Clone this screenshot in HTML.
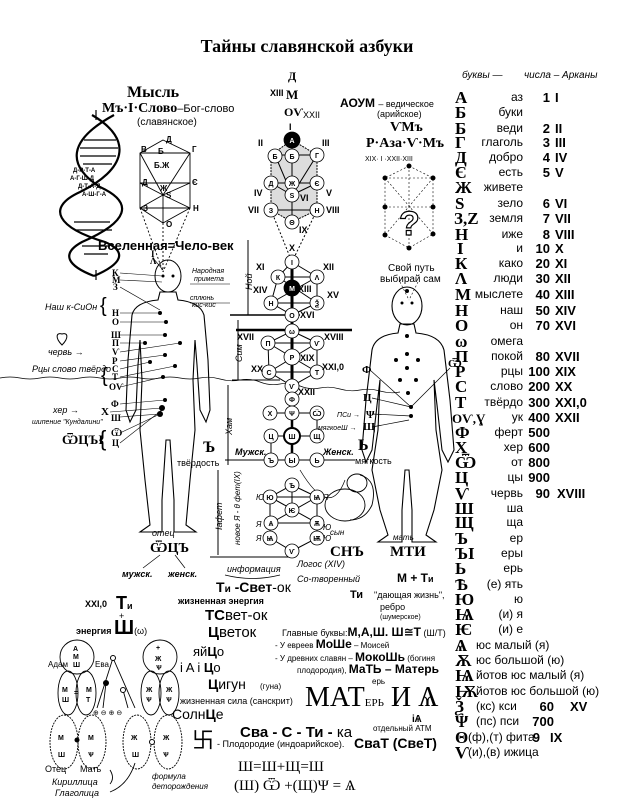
<!DOCTYPE html>
<html><head><meta charset="utf-8"><style>
html,body{margin:0;padding:0;background:#fff;}
svg{display:block;font-family:"Liberation Sans","DejaVu Sans",sans-serif;}
.s{font-family:"Liberation Serif","DejaVu Serif",serif;}
.i{font-style:italic;}
.b{font-weight:bold;}
</style></head><body>
<svg width="631" height="800" viewBox="0 0 631 800" xmlns="http://www.w3.org/2000/svg">
<rect width="631" height="800" fill="#fff"/>
<text x="307" y="52" text-anchor="middle" class="s b" font-size="18">Тайны славянской азбуки</text>

<!-- Right table -->
<g font-size="12">
<text x="462" y="78" class="i" font-size="10">буквы —</text>
<text x="524" y="78" class="i" font-size="10">числа – Арканы</text>
</g>
<g class="s b" font-size="17" fill="#000">
<text x="455" y="103">А</text><text x="455" y="118">Б</text><text x="455" y="134">Б</text><text x="455" y="148">Г</text><text x="455" y="163">Д</text><text x="455" y="178">Є</text><text x="455" y="193">Ж</text><text x="455" y="209">S</text><text x="454" y="224">З,Z</text><text x="455" y="240">Н</text><text x="457" y="254">І</text><text x="455" y="269">К</text><text x="455" y="284">Λ</text><text x="455" y="300">М</text><text x="455" y="316">Н</text><text x="455" y="331">О</text><text x="455" y="347">ω</text><text x="455" y="362">П</text><text x="455" y="377">Р</text><text x="455" y="392">С</text><text x="455" y="408">Т</text><text x="452" y="423" font-size="13">ОѴ,Ɣ</text><text x="455" y="438">Ф</text><text x="455" y="453">Х</text><text x="455" y="468">Ѿ</text><text x="455" y="483">Ц</text><text x="455" y="499">Ѵ</text><text x="455" y="514">Ш</text><text x="455" y="528">Щ</text><text x="455" y="544">Ъ</text><text x="455" y="559">ЪІ</text><text x="455" y="574">Ь</text><text x="455" y="590">Ѣ</text><text x="455" y="605">Ю</text><text x="455" y="620">Ѩ</text><text x="455" y="635">Ѥ</text><text x="455" y="651">Ѧ</text><text x="455" y="666">Ѫ</text><text x="455" y="681">Ѩ</text><text x="455" y="697">Ѭ</text><text x="455" y="712">Ѯ</text><text x="455" y="727">Ψ</text><text x="455" y="743">Θ</text><text x="455" y="758">Ѵ</text>
</g>
<g font-size="12" text-anchor="end">
<text x="523" y="101">аз</text><text x="523" y="116">буки</text><text x="523" y="132">веди</text><text x="523" y="146">глаголь</text><text x="523" y="161">добро</text><text x="523" y="176">есть</text><text x="523" y="191">живете</text><text x="523" y="207">зело</text><text x="523" y="222">земля</text><text x="523" y="238">иже</text><text x="523" y="252">и</text><text x="523" y="267">како</text><text x="523" y="282">люди</text><text x="523" y="298">мыслете</text><text x="523" y="314">наш</text><text x="523" y="329">он</text><text x="523" y="345">омега</text><text x="523" y="360">покой</text><text x="523" y="375">рцы</text><text x="523" y="390">слово</text><text x="523" y="406">твёрдо</text><text x="523" y="421">ук</text><text x="523" y="436">ферт</text><text x="523" y="451">хер</text><text x="523" y="466">от</text><text x="523" y="481">цы</text><text x="523" y="497">червь</text><text x="523" y="512">ша</text><text x="523" y="526">ща</text><text x="523" y="542">ер</text><text x="523" y="557">еры</text><text x="523" y="572">ерь</text><text x="523" y="588">(е) ять</text><text x="523" y="603">ю</text><text x="523" y="618">(и) я</text><text x="523" y="633">(и) е</text>
</g>
<g font-size="12">
<text x="476" y="649">юс малый (я)</text><text x="476" y="664">юс большой (ю)</text><text x="476" y="679">йотов юс малый (я)</text><text x="476" y="695">йотов юс большой (ю)</text><text x="476" y="710">(кс) кси</text><text x="476" y="725">(пс) пси</text><text x="468" y="741">(ф),(т) фита</text><text x="468" y="756">(и),(в) ижица</text>
</g>
<g font-size="13" class="b" text-anchor="end">
<text x="550" y="102">1</text><text x="550" y="133">2</text><text x="550" y="147">3</text><text x="550" y="162">4</text><text x="550" y="177">5</text><text x="550" y="208">6</text><text x="550" y="223">7</text><text x="550" y="239">8</text><text x="550" y="253">10</text><text x="550" y="268">20</text><text x="550" y="283">30</text><text x="550" y="299">40</text><text x="550" y="315">50</text><text x="550" y="330">70</text><text x="550" y="361">80</text><text x="550" y="376">100</text><text x="550" y="391">200</text><text x="550" y="407">300</text><text x="550" y="422">400</text><text x="550" y="437">500</text><text x="550" y="452">600</text><text x="550" y="467">800</text><text x="550" y="482">900</text><text x="550" y="498">90</text><text x="554" y="711">60</text><text x="554" y="726">700</text><text x="540" y="742">9</text>
</g>
<g font-size="13" class="b">
<text x="555" y="102">I</text><text x="555" y="133">II</text><text x="555" y="147">III</text><text x="555" y="162">IV</text><text x="555" y="177">V</text><text x="555" y="208">VI</text><text x="555" y="223">VII</text><text x="555" y="239">VIII</text><text x="555" y="253">X</text><text x="555" y="268">XI</text><text x="555" y="283">XII</text><text x="555" y="299">XIII</text><text x="555" y="315">XIV</text><text x="555" y="330">XVI</text><text x="555" y="361">XVII</text><text x="555" y="376">XIX</text><text x="555" y="391">XX</text><text x="555" y="407">XXI,0</text><text x="555" y="422">XXII</text><text x="557" y="498">XVIII</text><text x="570" y="711">XV</text><text x="550" y="742">IX</text>
</g>

<!-- Top-left -->
<text x="127" y="97" class="s b" font-size="16">Мысль</text>
<text x="102" y="112" class="s b" font-size="14">Мъ·І·Слово<tspan font-family="Liberation Sans" font-weight="normal" font-size="11">–Бог-слово</tspan></text>
<text x="137" y="125" font-size="10">(славянское)</text>
<!-- DNA -->
<g fill="none" stroke="#000" stroke-width="2.2">
<path d="M92 115 C135 140 125 170 80 192 C45 208 58 228 105 242 C128 252 122 264 94 276"/>
<path d="M114 115 C68 140 66 165 100 187 C135 203 128 222 82 242 C60 254 68 266 94 276"/>
</g>
<g stroke="#000" stroke-width="1.2">
<line x1="84" y1="140" x2="116" y2="140"/><line x1="80" y1="148" x2="118" y2="148"/><line x1="80" y1="156" x2="116" y2="156"/><line x1="83" y1="164" x2="112" y2="164"/>
<line x1="74" y1="222" x2="110" y2="222"/><line x1="76" y1="230" x2="112" y2="230"/><line x1="82" y1="246" x2="110" y2="246"/><line x1="84" y1="254" x2="108" y2="254"/>
<line x1="96" y1="110" x2="96" y2="120"/><line x1="96" y1="270" x2="96" y2="280"/>
</g>
<g font-size="6" class="b"><text x="73" y="172">Д-Р-Т-А</text><text x="70" y="180">А-Г-Ш-Д</text><text x="78" y="188">Д-Т-А-Д</text><text x="82" y="196">А-Ш-Г-А</text></g>
<!-- small tree -->
<g stroke="#000" stroke-width="0.9" fill="none">
<polygon points="163,140 190,153 190,208 163,223 140,208 140,153"/>
<line x1="140" y1="153" x2="190" y2="153"/><line x1="140" y1="183" x2="190" y2="183"/><line x1="140" y1="208" x2="190" y2="208"/>
<line x1="140" y1="153" x2="163" y2="195"/><line x1="190" y1="153" x2="163" y2="195"/><line x1="140" y1="183" x2="163" y2="195"/><line x1="190" y1="183" x2="163" y2="195"/>
<line x1="163" y1="195" x2="140" y2="208"/><line x1="163" y1="195" x2="190" y2="208"/><line x1="163" y1="195" x2="163" y2="223"/>
<line x1="140" y1="208" x2="163" y2="272" stroke-dasharray="2,2"/><line x1="190" y1="208" x2="163" y2="272" stroke-dasharray="2,2"/><line x1="163" y1="223" x2="163" y2="272" stroke-dasharray="2,2"/>
</g>
<g font-size="8" class="b"><text x="166" y="142">Д</text><text x="141" y="152">В</text><text x="158" y="154">Б</text><text x="192" y="152">Г</text><text x="154" y="168">Б.Ж</text><text x="142" y="185">Д</text><text x="192" y="185">Є</text><text x="160" y="191">Ж</text><text x="166" y="198">S</text><text x="143" y="211">З</text><text x="193" y="211">Н</text><text x="166" y="227">О</text></g>
<text x="98" y="250" class="b" font-size="13">Вселенная=Чело-век</text>

<!-- Man -->
<ellipse cx="168" cy="276" rx="13" ry="16" fill="none" stroke="#000"/>
<path d="M160 292 L158 300 Q135 302 132 315 L128 360 L126 410 L130 422 L136 410 L138 365 L140 340 L142 380 L140 430 L145 480 L150 525 L140 532 L162 532 L162 500 L166 440 L170 440 L174 500 L174 532 L196 532 L186 525 L190 480 L195 430 L193 380 L195 340 L197 365 L200 410 L206 422 L210 410 L208 360 L204 315 Q200 302 178 300 L176 292 Z" fill="none" stroke="#000" stroke-width="1.1"/>
<g fill="#000"><circle cx="163" cy="276" r="1.5"/><circle cx="173" cy="276" r="1.5"/><circle cx="160" cy="313" r="2"/><circle cx="166" cy="322" r="2"/><circle cx="165" cy="335" r="2"/><circle cx="145" cy="343" r="2"/><circle cx="180" cy="343" r="2"/><circle cx="165" cy="355" r="2"/><circle cx="150" cy="362" r="2"/><circle cx="175" cy="366" r="2"/><circle cx="163" cy="377" r="2"/><circle cx="165" cy="400" r="2"/><circle cx="162" cy="408" r="3"/><circle cx="160" cy="414" r="3"/></g>
<g stroke="#000" stroke-width="0.6">
<line x1="120" y1="273" x2="162" y2="276"/><line x1="120" y1="280" x2="162" y2="282"/><line x1="120" y1="287" x2="160" y2="310"/><line x1="120" y1="313" x2="160" y2="313"/><line x1="120" y1="322" x2="166" y2="322"/><line x1="120" y1="335" x2="165" y2="335"/><line x1="120" y1="343" x2="145" y2="343"/><line x1="120" y1="352" x2="180" y2="343"/><line x1="120" y1="361" x2="165" y2="355"/><line x1="120" y1="369" x2="150" y2="362"/><line x1="120" y1="377" x2="175" y2="366"/><line x1="120" y1="387" x2="163" y2="377"/><line x1="120" y1="404" x2="165" y2="400"/><line x1="110" y1="412" x2="162" y2="408"/><line x1="120" y1="417" x2="160" y2="414"/><line x1="120" y1="433" x2="160" y2="414"/><line x1="120" y1="443" x2="162" y2="410"/>
<line x1="153" y1="258" x2="163" y2="270"/>
</g>
<g class="s b" font-size="9"><text x="112" y="276">К</text><text x="112" y="283">М</text><text x="113" y="290">З</text><text x="112" y="316">Н</text><text x="112" y="325">О</text><text x="111" y="338">Ш</text><text x="112" y="346">П</text><text x="112" y="355">Ѵ</text><text x="112" y="364">Р</text><text x="112" y="372">С</text><text x="112" y="380">Т</text><text x="109" y="390">ОѴ</text><text x="111" y="407">Ф</text><text x="101" y="415" font-size="11">Х</text><text x="111" y="421">Ш</text><text x="111" y="436">Ѿ</text><text x="112" y="446">Ц</text><text x="151" y="257">І</text><text x="150" y="264">Λ</text></g>
<g font-size="9" class="i"><text x="45" y="310">Наш к-СиОн</text><text x="100" y="312" font-size="20" font-style="normal">{</text>
<text x="48" y="355">червь →</text><text x="32" y="372">Рцы слово твёрдо</text><text x="101" y="382" font-size="20" font-style="normal">{</text>
<text x="53" y="413">хер →</text><text x="32" y="424" font-size="7">шипение "Кундалини"</text></g>
<path d="M62 345 C55 338 56 332 62 334 C68 332 69 338 62 345 Z" fill="none" stroke="#000"/>
<text x="62" y="444" class="s b" font-size="13">ѾЦЪІ</text><text x="99" y="446" font-size="22">{</text>
<g font-size="7" class="i"><text x="192" y="273">Народная</text><text x="194" y="281">примета</text><text x="190" y="300">сплюнь</text><text x="192" y="307">кис-кис</text></g>
<line x1="190" y1="303" x2="230" y2="303" stroke="#000" stroke-width="0.6"/><line x1="190" y1="284" x2="230" y2="284" stroke="#000" stroke-width="0.6"/>
<text x="203" y="452" class="s b" font-size="16">Ъ</text><text x="177" y="466" font-size="9">твёрдость</text>
<text x="152" y="536" class="i" font-size="9">отец</text><text x="150" y="552" class="s b" font-size="14">ѾЦЪ</text>
<g stroke="#000" stroke-width="0.7"><line x1="160" y1="555" x2="143" y2="568"/><line x1="175" y1="555" x2="185" y2="568"/></g>
<text x="122" y="577" class="i b" font-size="9">мужск.</text><text x="168" y="577" class="i b" font-size="9">женск.</text>

<!-- wavy line -->
<path d="M0 378 Q10 376 20 378 T40 378 T60 378 T80 378 T100 378 T120 378 T140 378 T160 378 T180 378 T200 378 T220 379 T240 380 T260 382 T280 384 T300 386 T320 388 T340 389 T360 390 T380 391 T400 392" fill="none" stroke="#000" stroke-width="0.7"/>

<!-- Central tree -->
<g stroke="#000" stroke-width="1" fill="none">
<polygon points="292,140 317,155 317,210 292,222 271,210 271,155" fill="#ddd" stroke-dasharray="2,1"/>
<line x1="275" y1="155" x2="317" y2="155"/><line x1="271" y1="183" x2="317" y2="183"/><line x1="271" y1="210" x2="317" y2="210"/>
<line x1="275" y1="155" x2="292" y2="195"/><line x1="317" y1="155" x2="292" y2="195"/><line x1="271" y1="183" x2="292" y2="195"/><line x1="317" y1="183" x2="292" y2="195"/><line x1="292" y1="140" x2="292" y2="222"/>
<line x1="271" y1="210" x2="292" y2="262" stroke-dasharray="2,2"/><line x1="317" y1="210" x2="292" y2="262" stroke-dasharray="2,2"/>
<polygon points="292,262 317,277 317,303 292,315 271,303 278,277"/>
<line x1="278" y1="277" x2="317" y2="277"/><line x1="271" y1="303" x2="317" y2="303"/><line x1="278" y1="277" x2="317" y2="303"/><line x1="317" y1="277" x2="271" y2="303"/>
<line x1="292" y1="262" x2="292" y2="400" stroke-width="3"/>
<polygon points="292,331 317,343 317,372 292,386 269,372 268,343"/>
<line x1="268" y1="343" x2="317" y2="343"/><line x1="269" y1="372" x2="317" y2="372"/><line x1="268" y1="343" x2="317" y2="372"/><line x1="317" y1="343" x2="269" y2="372"/>
<line x1="270" y1="413" x2="317" y2="413"/><line x1="271" y1="436" x2="317" y2="436"/><line x1="292" y1="400" x2="292" y2="460" stroke-width="2.5"/><line x1="271" y1="436" x2="271" y2="460"/><line x1="317" y1="413" x2="317" y2="436"/>
<line x1="225" y1="460" x2="355" y2="460"/>
<polygon points="292,485 317,497 317,538 292,551 270,538 270,497"/>
<line x1="270" y1="497" x2="317" y2="497"/><line x1="271" y1="523" x2="317" y2="523"/><line x1="270" y1="497" x2="317" y2="523"/><line x1="317" y1="497" x2="271" y2="523"/><line x1="292" y1="485" x2="292" y2="510"/>
<line x1="236" y1="330" x2="352" y2="330" stroke-width="2.5"/>
<line x1="230" y1="315" x2="300" y2="315" stroke-width="1.5"/>
<line x1="232" y1="380" x2="280" y2="380"/>
<line x1="210" y1="557" x2="295" y2="557"/>
<line x1="248" y1="240" x2="248" y2="315"/><line x1="238" y1="320" x2="238" y2="380"/><line x1="228" y1="385" x2="228" y2="465"/><line x1="218" y1="470" x2="218" y2="555"/>
<path d="M300 470 Q330 520 345 480" stroke-width="0.7"/>
</g>
<g font-size="7" class="b" text-anchor="middle" stroke="#000" stroke-width="0.8">
<g fill="#fff">
<circle cx="292" cy="140" r="8" fill="#000"/><circle cx="275" cy="156" r="7"/><circle cx="292" cy="156" r="7"/><circle cx="317" cy="155" r="7"/>
<circle cx="271" cy="183" r="7"/><circle cx="292" cy="183" r="7"/><circle cx="317" cy="183" r="7"/><circle cx="292" cy="195" r="7"/>
<circle cx="271" cy="210" r="7"/><circle cx="317" cy="210" r="7"/><circle cx="292" cy="222" r="7"/><circle cx="292" cy="262" r="7"/>
<circle cx="278" cy="277" r="7"/><circle cx="317" cy="277" r="7"/><circle cx="292" cy="288" r="8" fill="#000"/><circle cx="271" cy="303" r="7"/><circle cx="317" cy="303" r="7"/><circle cx="292" cy="315" r="7"/>
<circle cx="292" cy="331" r="7"/><circle cx="268" cy="343" r="7"/><circle cx="317" cy="343" r="7"/><circle cx="292" cy="357" r="8"/><circle cx="269" cy="372" r="7"/><circle cx="317" cy="372" r="7"/><circle cx="292" cy="386" r="7"/><circle cx="292" cy="399" r="7"/>
<circle cx="270" cy="413" r="7"/><circle cx="292" cy="413" r="7"/><circle cx="317" cy="413" r="7"/><circle cx="271" cy="436" r="7"/><circle cx="292" cy="436" r="8" stroke-width="2"/><circle cx="317" cy="436" r="7"/>
<circle cx="271" cy="460" r="7"/><circle cx="292" cy="460" r="7"/><circle cx="317" cy="460" r="7"/>
<circle cx="292" cy="485" r="7"/><circle cx="270" cy="497" r="7"/><circle cx="317" cy="497" r="7"/><circle cx="292" cy="510" r="7"/><circle cx="271" cy="523" r="7"/><circle cx="317" cy="523" r="7"/><circle cx="270" cy="538" r="7"/><circle cx="317" cy="538" r="7"/><circle cx="292" cy="551" r="7"/>
</g>
<g stroke="none" fill="#000">
<text x="292" y="143" fill="#fff">А</text><text x="275" y="159">Б</text><text x="292" y="159">Б</text><text x="317" y="158">Г</text><text x="271" y="186">Д</text><text x="292" y="186">Ж</text><text x="317" y="186">Є</text><text x="292" y="198">S</text><text x="271" y="213">З</text><text x="317" y="213">Н</text><text x="292" y="225">Θ</text><text x="292" y="265">І</text>
<text x="278" y="280">К</text><text x="317" y="280">Λ</text><text x="292" y="291" fill="#fff">М</text><text x="271" y="306">Н</text><text x="317" y="306">Ѯ</text><text x="292" y="318">О</text>
<text x="292" y="334">ω</text><text x="268" y="346">П</text><text x="317" y="346">Ѵ</text><text x="292" y="360">Р</text><text x="269" y="375">С</text><text x="317" y="375">Т</text><text x="292" y="389">Ѵ</text><text x="292" y="402">Ф</text>
<text x="270" y="416">Х</text><text x="292" y="416">Ψ</text><text x="317" y="416">Ѿ</text><text x="271" y="439">Ц</text><text x="292" y="439">Ш</text><text x="317" y="439">Щ</text><text x="271" y="463">Ъ</text><text x="292" y="463">Ы</text><text x="317" y="463">Ь</text>
<text x="292" y="488">Ѣ</text><text x="270" y="500">Ю</text><text x="317" y="500">Ѩ</text><text x="292" y="513">Ѥ</text><text x="271" y="526">Ѧ</text><text x="317" y="526">Ѫ</text><text x="270" y="541">Ѩ</text><text x="317" y="541">Ѭ</text><text x="292" y="554">Ѵ</text>
</g></g>
<g class="b" font-size="9">
<text x="288" y="80" class="s" font-size="12">Д</text><text x="270" y="96">XIII</text><text x="286" y="99" class="s" font-size="13">М</text><text x="284" y="116" class="s" font-size="12">ОѴ</text><text x="303" y="118" font-weight="normal">XXII</text>
<text x="289" y="130">I</text><text x="258" y="146">II</text><text x="322" y="146">III</text><text x="254" y="196">IV</text><text x="326" y="196">V</text><text x="300" y="201">VI</text><text x="248" y="213">VII</text><text x="326" y="213">VIII</text><text x="299" y="233">IX</text><text x="289" y="251">X</text>
<text x="256" y="270">XI</text><text x="323" y="270">XII</text><text x="253" y="293">XIV</text><text x="298" y="292">XIII</text><text x="327" y="298">XV</text><text x="300" y="318">XVI</text>
<text x="237" y="340">XVII</text><text x="324" y="340">XVIII</text><text x="300" y="361">XIX</text><text x="251" y="372">XX</text><text x="322" y="370">XXI,0</text><text x="298" y="395">XXII</text>
</g>
<g class="i" font-size="9"><text transform="translate(252,290) rotate(-90)">Ной</text><text transform="translate(242,362) rotate(-90)">Сим</text><text transform="translate(232,435) rotate(-90)">Хам</text><text transform="translate(222,530) rotate(-90)">Іафет</text><text transform="translate(240,545) rotate(-90)" font-size="8">новое Я - θ фет(IX)</text></g>
<g class="i b" font-size="9"><text x="235" y="455">Мужск.</text><text x="323" y="455">Женск.</text></g>
<text x="358" y="450" class="s b" font-size="16">Ь</text><text x="355" y="464" font-size="9">мягкость</text>
<g font-size="8" class="i"><text x="256" y="500">Ю</text><text x="323" y="500">Я</text><text x="256" y="527">Я</text><text x="323" y="530">Ю</text><text x="256" y="541">Я</text><text x="323" y="541">Ю</text><text x="330" y="535">сын</text></g>
<!-- baby -->
<g fill="none" stroke="#000" stroke-width="0.9"><ellipse cx="345" cy="505" rx="20" ry="16"/><ellipse cx="357" cy="483" rx="10" ry="9"/><path d="M360 475 Q378 480 372 505 Q365 520 350 520"/></g>
<text x="330" y="556" class="s b" font-size="15">СНЪ</text><text x="390" y="556" class="s b" font-size="15">МТИ</text>
<text x="393" y="540" class="i" font-size="8">мать</text>

<!-- Right top -->
<text x="340" y="107" class="b" font-size="12">АОУМ <tspan font-weight="normal" font-size="9">– ведическое</tspan></text>
<text x="377" y="117" font-size="9">(арийское)</text>
<text x="390" y="131" class="s b" font-size="14">ѴМъ</text>
<text x="366" y="147" class="s b" font-size="14">Р·Аза·Ѵ·Мъ</text>
<text x="365" y="161" font-size="7">XIX·   I   ·XXII·XIII</text>
<g stroke="#000" stroke-width="0.6" stroke-dasharray="2,2" fill="none">
<polygon points="409,166 433,178 433,234 409,248 385,235 385,178"/><line x1="385" y1="178" x2="433" y2="178"/><line x1="385" y1="207" x2="433" y2="207"/><line x1="385" y1="178" x2="433" y2="234"/><line x1="433" y1="178" x2="385" y2="235"/><line x1="409" y1="166" x2="409" y2="248"/>
<line x1="400" y1="282" x2="409" y2="300"/><line x1="418" y1="282" x2="409" y2="300"/>
</g>
<g fill="#000"><circle cx="409" cy="166" r="2.5"/><circle cx="385" cy="178" r="2.5"/><circle cx="433" cy="178" r="2.5"/><circle cx="385" cy="207" r="2.5"/><circle cx="433" cy="207" r="2.5"/><circle cx="385" cy="235" r="2.5"/><circle cx="433" cy="234" r="2.5"/><circle cx="409" cy="248" r="2.5"/></g>
<text x="399" y="235" font-size="34" fill="#fff" stroke="#000" stroke-width="1.2" class="b">?</text>
<text x="388" y="271" font-size="10">Свой путь</text><text x="380" y="282" font-size="10">выбирай сам</text>

<!-- Woman -->
<ellipse cx="407" cy="306" rx="15" ry="19" fill="none" stroke="#000" stroke-width="1.1"/>
<path d="M400 324 L398 333 Q375 335 372 350 L366 400 L362 450 L366 462 L372 450 L377 405 L380 380 L378 430 L372 470 L380 510 L388 535 L378 542 L402 542 L402 510 L405 470 L409 470 L412 510 L412 542 L436 542 L426 535 L434 510 L442 470 L436 430 L434 380 L437 405 L442 450 L448 462 L454 450 L450 400 L444 350 Q440 335 416 333 L414 324 Z" fill="none" stroke="#000" stroke-width="1.1"/>
<g fill="#000"><circle cx="402" cy="303" r="1.5"/><circle cx="412" cy="303" r="1.5"/><circle cx="407" cy="291" r="2"/><circle cx="407" cy="336" r="2"/><circle cx="407" cy="354" r="2"/><circle cx="396" cy="360" r="2"/><circle cx="418" cy="360" r="2"/><circle cx="407" cy="368" r="2"/><circle cx="400" cy="380" r="2"/><circle cx="416" cy="380" r="2"/><circle cx="408" cy="393" r="2"/><circle cx="411" cy="407" r="2"/><circle cx="411" cy="416" r="2"/></g>
<g stroke="#000" stroke-width="0.7"><line x1="370" y1="370" x2="411" y2="407"/><line x1="450" y1="368" x2="411" y2="407"/><line x1="372" y1="398" x2="411" y2="407"/><line x1="372" y1="414" x2="411" y2="416"/><line x1="372" y1="427" x2="409" y2="420"/></g>
<g class="s b" font-size="11"><text x="362" y="373">Ф</text><text x="448" y="367">Ѿ</text><text x="363" y="401">Ц</text><text x="366" y="418">Ψ</text><text x="363" y="430">Щ</text></g>
<g class="i" font-size="7"><text x="337" y="417">ПСи →</text><text x="318" y="430">мягкоеШ →</text></g>

<!-- Bottom center -->
<text x="227" y="572" class="i" font-size="9">информация</text>
<path d="M225 575 Q252 582 280 575" fill="none" stroke="#000" stroke-width="0.7"/>
<text x="216" y="592" class="b" font-size="14">Т<tspan font-size="10">и</tspan> -Свет<tspan font-weight="normal">-ок</tspan></text>
<text x="178" y="604" class="b" font-size="9">жизненная энергия</text>
<text x="205" y="620" font-size="15"><tspan class="b">ТС</tspan>вет-ок</text>
<text x="208" y="637" font-size="15"><tspan class="b">Ц</tspan>веток</text>
<text x="193" y="656" font-size="13">яй<tspan class="b">Ц</tspan>о</text>
<text x="180" y="672" font-size="13">i A i <tspan class="b">Ц</tspan>о</text>
<text x="208" y="689" font-size="14"><tspan class="b">Ц</tspan>игун</text><text x="260" y="689" font-size="8">(гуна)</text>
<text x="180" y="704" font-size="9">жизненная сила (санскрит)</text>
<text x="172" y="719" font-size="14">Солн<tspan class="b">Ц</tspan>е</text>
<text x="297" y="567" class="i" font-size="9">Логос (XIV)</text>
<text x="297" y="582" class="i" font-size="9">Со-творенный</text>
<text x="397" y="582" class="b" font-size="12">М + Т<tspan font-size="9">и</tspan></text>
<text x="350" y="598" class="b" font-size="11">Ти</text><text x="374" y="598" font-size="9">"дающая жизнь",</text>
<text x="380" y="610" font-size="9">ребро</text><text x="380" y="619" font-size="7">(шумерское)</text>
<text x="282" y="636" font-size="9">Главные буквы:<tspan class="b" font-size="12">М,А,Ш. Ш≅Т</tspan> (Ш/Т)</text>
<text x="275" y="648" font-size="8">- У евреев <tspan class="b" font-size="12">МоШе</tspan> – Моисей</text>
<text x="275" y="661" font-size="8">- У древних славян – <tspan class="b" font-size="12">МокоШь</tspan> (богиня</text>
<text x="297" y="673" font-size="8">плодородия), <tspan class="b" font-size="12">МаТЬ – Матерь</tspan></text>
<text x="372" y="684" font-size="8">ерь</text>
<text x="305" y="706" class="s" font-size="28">МАТ<tspan font-size="11">ЕРЬ</tspan> И Ѧ</text>
<text x="412" y="722" class="b" font-size="10">iѦ</text>
<text x="373" y="731" font-size="8">отдельный АТМ</text>
<text x="240" y="737" class="b" font-size="15">Сва - С - Ти - <tspan font-weight="normal">ка</tspan></text>
<text x="192" y="748" font-size="22">卐</text>
<text x="217" y="747" font-size="9">- Плодородие (индоарийское).</text>
<text x="354" y="748" class="b" font-size="14">СваТ (СвеТ)</text>
<text x="238" y="771" class="s" font-size="15">Ш=Ш+Щ=Ш</text>
<text x="234" y="790" class="s" font-size="15">(Ш) Ѿ +(Щ)Ψ = Ѧ</text>
<text x="152" y="779" class="i" font-size="8">формула</text><text x="152" y="789" class="i" font-size="8">деторождения</text>

<!-- Bottom left -->
<text x="85" y="607" class="b" font-size="9">XXI,0</text><text x="116" y="609" class="b" font-size="18">Т<tspan font-size="9">и</tspan></text>
<text x="119" y="619" font-size="9">+</text>
<text x="76" y="634" class="b" font-size="9">энергия <tspan font-size="20">Ш</tspan><tspan font-weight="normal" font-size="9">(ω)</tspan></text>
<g fill="none" stroke="#000" stroke-width="0.9">
<circle cx="77" cy="657" r="17"/><circle cx="160" cy="657" r="17"/>
<ellipse cx="68" cy="693" rx="10" ry="22"/><ellipse cx="86" cy="693" rx="10" ry="22"/>
<ellipse cx="151" cy="693" rx="10" ry="22"/><ellipse cx="169" cy="693" rx="10" ry="22"/>
<ellipse cx="64" cy="742" rx="14" ry="27" stroke-dasharray="2,1"/><ellipse cx="92" cy="742" rx="14" ry="27" stroke-dasharray="2,1"/>
<ellipse cx="137" cy="742" rx="14" ry="27" stroke-dasharray="2,1"/><ellipse cx="168" cy="742" rx="14" ry="27" stroke-dasharray="2,1"/>
<polyline points="97,708 113,658 135,708"/><line x1="106" y1="683" x2="103" y2="708"/><line x1="123" y1="690" x2="128" y2="708"/>
<path d="M110 770 Q115 778 110 784"/><path d="M135 763 Q128 785 110 792"/>
</g>
<g font-size="7" fill="#000">
<circle cx="113" cy="658" r="2.5" fill="#fff" stroke="#000"/><circle cx="106" cy="683" r="3"/><circle cx="123" cy="690" r="2.5" fill="#fff" stroke="#000"/>
<text x="93" y="715">⊕ ⊖ ⊕ ⊖</text>
<text x="73" y="651" class="b">А</text><text x="73" y="659" class="b">М</text><text x="73" y="667" class="b">Ш</text>
<text x="62" y="692" class="b">М</text><text x="86" y="692" class="b">М</text><text x="62" y="702" class="b">Ш</text><text x="86" y="702" class="b">Т</text><text x="74" y="695" class="b">=</text>
<text x="156" y="650" class="b">+</text><text x="155" y="661" class="b">Ж</text><text x="156" y="670" class="b">Ѱ</text>
<text x="146" y="692" class="b">Ж</text><text x="166" y="692" class="b">Ж</text><text x="146" y="702" class="b">Ѱ</text><text x="166" y="702" class="b">Ѱ</text>
<text x="58" y="740" class="b">М</text><text x="88" y="740" class="b">М</text><text x="58" y="757" class="b">Ш</text><text x="88" y="757" class="b">Ѱ</text>
<text x="131" y="740" class="b">Ж</text><text x="163" y="740" class="b">Ж</text><text x="132" y="757" class="b">Ш</text><text x="163" y="757" class="b">Ѱ</text>
<circle cx="77" cy="740" r="2.5"/><circle cx="152" cy="742" r="2.5" fill="#fff" stroke="#000"/>
</g>
<text x="48" y="667" font-size="8">Адам</text><text x="95" y="667" font-size="8">Ева</text>
<text x="45" y="772" font-size="9">Отец</text><text x="80" y="772" font-size="9">Мать</text>
<text x="52" y="785" class="i" font-size="9">Кириллица</text><text x="55" y="796" class="i" font-size="9">Глаголица</text>
</svg>
</body></html>
